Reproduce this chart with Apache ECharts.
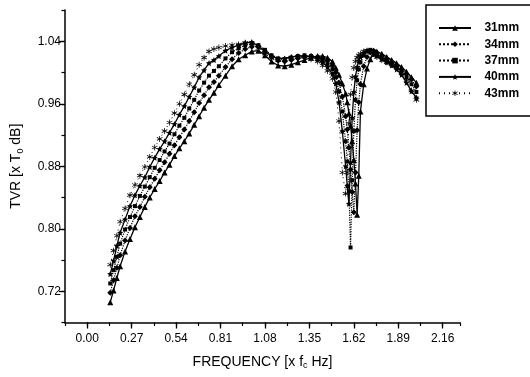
<!DOCTYPE html>
<html>
<head>
<meta charset="utf-8">
<script src="https://cdn.jsdelivr.net/npm/echarts@6/dist/echarts.min.js"></script>
<style>html,body{margin:0;padding:0;background:#fff}#c{width:530px;height:377px}</style>
</head>
<body>
<div id="c"></div>
<script>
// Frequency samples [x fc Hz]
var freq = [0.14,0.16,0.18,0.20,0.23,0.26,0.29,0.32,0.35,0.38,0.41,0.44,0.47,0.50,0.53,0.56,0.59,0.62,0.65,0.68,0.71,0.74,0.77,0.80,
  0.84,0.88,0.92,0.96,1.00,1.04,1.08,1.12,1.16,1.20,1.24,1.28,1.32,1.36,1.40,1.43,1.46,1.49,
  1.51,1.53,1.55,1.57,1.58,1.59,1.60,1.61,1.62,1.63,1.64,1.65,1.66,
  1.68,1.70,1.72,1.74,1.76,1.79,1.82,1.85,1.88,1.91,1.94,1.97,2.00];

var tvr31 = [0.706,0.721,0.737,0.752,0.771,0.787,0.802,0.815,0.828,0.840,0.851,0.861,0.872,0.882,0.893,0.903,0.912,0.922,0.933,0.944,0.955,0.965,0.974,0.984,
  0.996,1.008,1.017,1.022,1.027,1.028,1.022,1.014,1.009,1.008,1.010,1.013,1.016,1.019,1.021,1.021,1.019,1.014,
  1.006,0.997,0.986,0.973,0.962,0.948,0.932,0.912,0.888,0.858,0.818,0.868,0.950,
  0.985,1.005,1.017,1.024,1.027,1.024,1.020,1.016,1.012,1.007,1.001,0.994,0.987];

var tvr34 = [0.718,0.734,0.750,0.766,0.785,0.801,0.816,0.828,0.841,0.853,0.864,0.875,0.885,0.896,0.907,0.917,0.927,0.938,0.949,0.961,0.971,0.981,0.988,0.996,
  1.007,1.017,1.025,1.030,1.033,1.033,1.027,1.020,1.015,1.014,1.016,1.018,1.020,1.021,1.020,1.018,1.015,1.009,
  1.000,0.987,0.969,0.944,0.927,0.904,0.876,0.847,0.821,0.872,0.926,0.962,0.985,
  1.008,1.020,1.026,1.028,1.025,1.021,1.017,1.013,1.009,1.004,0.998,0.991,0.982];

var tvr37 = [0.730,0.747,0.764,0.781,0.799,0.815,0.829,0.842,0.854,0.866,0.878,0.888,0.899,0.909,0.921,0.932,0.942,0.954,0.965,0.977,0.987,0.996,1.002,1.008,
  1.018,1.026,1.031,1.035,1.037,1.035,1.029,1.022,1.018,1.017,1.019,1.021,1.022,1.021,1.019,1.016,1.011,1.004,
  0.994,0.976,0.950,0.912,0.886,0.848,0.776,0.862,0.925,0.965,0.990,1.004,1.013,
  1.022,1.027,1.029,1.027,1.023,1.019,1.015,1.011,1.007,1.001,0.994,0.985,0.975];

var tvr40 = [0.742,0.759,0.778,0.795,0.812,0.829,0.843,0.855,0.866,0.879,0.891,0.902,0.912,0.923,0.934,0.946,0.957,0.969,0.981,0.994,1.003,1.012,1.016,1.021,
  1.028,1.032,1.035,1.038,1.039,1.034,1.027,1.021,1.018,1.018,1.020,1.021,1.021,1.020,1.017,1.013,1.007,0.998,
  0.986,0.962,0.925,0.880,0.855,0.832,0.885,0.942,0.975,0.995,1.007,1.015,1.020,
  1.025,1.028,1.028,1.025,1.021,1.017,1.013,1.009,1.004,0.997,0.987,0.976,0.968];

var tvr43 = [0.754,0.772,0.791,0.809,0.826,0.843,0.856,0.868,0.879,0.892,0.904,0.915,0.925,0.936,0.948,0.960,0.972,0.985,0.997,1.010,1.019,1.027,1.030,1.032,
  1.034,1.035,1.036,1.038,1.037,1.031,1.024,1.018,1.016,1.017,1.019,1.020,1.020,1.017,1.014,1.009,1.002,0.992,
  0.975,0.938,0.872,0.845,0.872,0.935,0.972,0.994,1.006,1.014,1.019,1.022,1.024,
  1.027,1.028,1.027,1.024,1.020,1.016,1.013,1.010,1.006,1.000,0.990,0.977,0.965];

var seriesNames = ['31mm','34mm','37mm','40mm','43mm'];
var xMajorTicks = [0.00,0.27,0.54,0.81,1.08,1.35,1.62,1.89,2.16];
var yMajorTicks = [0.72,0.80,0.88,0.96,1.04];

function pairs(ys){ return freq.map(function(f,i){ return [f, ys[i]]; }); }

var STAR = 'path://M0,-10L2.9,-4L9.5,-3.1L4.7,1.5L5.9,8.1L0,5L-5.9,8.1L-4.7,1.5L-9.5,-3.1L-2.9,-4Z';
var ASTER = 'path://M-1.2,-10L1.2,-10L1.2,10L-1.2,10Z M-9.3,-3.9L-8.1,-6L9.3,3.9L8.1,6Z M-8.1,6L-9.3,3.9L8.1,-6L9.3,-3.9Z';

var font = '"Liberation Sans", Arial, sans-serif';

function mk(name, ys, symbol, size, ltype, lwidth){
  return {
    name: name, type: 'line', data: pairs(ys),
    symbol: symbol, symbolSize: size, showSymbol: true, showAllSymbol: true,
    lineStyle: {color:'#000', width: lwidth, type: ltype},
    itemStyle: {color:'#000', borderWidth: 0},
    emphasis: {disabled: true}, animation: false, z: 3
  };
}

var chart = echarts.init(document.getElementById('c'), null, {renderer:'canvas'});
var fmt2 = function(v){ return (Math.round(v*100)/100).toFixed(2); };

chart.setOption({
  backgroundColor: '#fff',
  animation: false,
  grid: {left: 65, right: 70, top: 10, bottom: 54.5, containLabel: false},
  graphic: [{
    type: 'rect', z: 50,
    shape: {x: 426, y: 5, width: 140, height: 111},
    style: {fill: '#fff', stroke: '#000', lineWidth: 1.5},
    silent: true
  }],
  xAxis: [{
    type: 'value', min: -0.135, max: 2.265, interval: 0.135, position: 'bottom',
    name: 'FREQUENCY [x f{s|c} Hz]', nameLocation: 'middle', nameGap: 31,
    nameTextStyle: {fontFamily: font, fontSize: 14, color: '#000',
      rich: {s: {fontFamily: font, fontSize: 9, color:'#000', verticalAlign: 'bottom', padding:[8,0,0,0]}}},
    axisLine: {show: true, onZero: false, lineStyle: {color:'#000', width: 1.5}},
    axisTick: {show: true, length: 6, lineStyle: {color:'#000', width: 1.3}, customValues: xMajorTicks},
    axisLabel: {show: true, customValues: xMajorTicks, formatter: fmt2, margin: 10,
      fontFamily: font, fontSize: 12, color: '#000'},
    splitLine: {show: false}
  },{
    type: 'value', min: -0.135, max: 2.265, interval: 0.135, position: 'bottom', gridIndex: 0,
    axisLine: {show: false, onZero: false},
    axisTick: {show: true, length: 3.5, lineStyle: {color:'#000', width: 1.2}},
    axisLabel: {show: false}, splitLine: {show: false}
  }],
  yAxis: [{
    type: 'value', min: 0.68, max: 1.08, interval: 0.04, position: 'left',
    name: 'TVR [x T{s|0} dB]', nameLocation: 'middle', nameGap: 40,
    nameTextStyle: {fontFamily: font, fontSize: 14, color: '#000',
      rich: {s: {fontFamily: font, fontSize: 9, color:'#000', verticalAlign: 'bottom', padding:[8,0,0,0]}}},
    axisLine: {show: true, onZero: false, lineStyle: {color:'#000', width: 1.5}},
    axisTick: {show: true, length: 6, lineStyle: {color:'#000', width: 1.3}, customValues: yMajorTicks},
    axisLabel: {show: true, customValues: yMajorTicks, formatter: fmt2, margin: 4,
      fontFamily: font, fontSize: 12, color: '#000'},
    splitLine: {show: false}
  },{
    type: 'value', min: 0.68, max: 1.08, interval: 0.04, position: 'left', gridIndex: 0,
    axisLine: {show: false, onZero: false},
    axisTick: {show: true, length: 3.5, lineStyle: {color:'#000', width: 1.2}},
    axisLabel: {show: false}, splitLine: {show: false}
  }],
  legend: {
    data: seriesNames, orient: 'vertical', left: 426, top: 6, z: 60,
    padding: [16, 2, 10, 12], itemGap: 4.3, itemWidth: 32, itemHeight: 7,
    textStyle: {fontFamily: font, fontSize: 12, fontWeight: 'bold', color: '#000'},
    formatter: function(n){ return '\u2002\u2009' + n; },
    selectedMode: false
  },
  series: [
    mk('31mm', tvr31, 'triangle', 6, 'solid', 1.3),
    mk('34mm', tvr34, 'diamond', 6, 'dotted', 1.2),
    mk('37mm', tvr37, 'rect', 4, 'dotted', 1.2),
    mk('40mm', tvr40, STAR, 6, 'solid', 1.3),
    mk('43mm', tvr43, ASTER, 6, [1,4], 1)
  ]
});
</script>
</body>
</html>
